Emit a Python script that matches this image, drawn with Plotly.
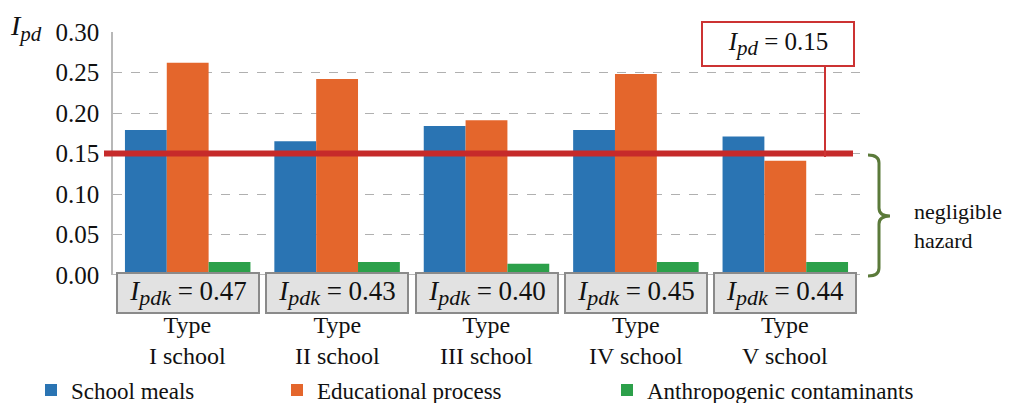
import plotly.graph_objects as go

categories = ["Type<br>I school", "Type<br>II school", "Type<br>III school", "Type<br>IV school", "Type<br>V school"]
school_meals = [0.179, 0.165, 0.184, 0.179, 0.171]
educational_process = [0.262, 0.242, 0.191, 0.248, 0.141]
anthropogenic = [0.016, 0.016, 0.014, 0.016, 0.016]
ipdk_values = ["0.47", "0.43", "0.40", "0.45", "0.44"]
threshold = 0.15
y_ticks = [0.0, 0.05, 0.10, 0.15, 0.20, 0.25, 0.30]

OFF = 8  # page body margin
W, H = 1011 - OFF, 403 - OFF
# plot area in reference (screen) pixels
SL, SR, ST, SB = 113, 860, 32, 275
L, T = SL - OFF, ST - OFF
R, B = W - (SR - OFF), H - (SB - OFF)
PW, PH = SR - SL, SB - ST

def px(x):
    return (x - SL) / PW

def py(y):
    return (SB - y) / PH

FONT = "Liberation Serif, serif"
idx = list(range(len(categories)))

def sym(main, sub, subsize):
    return (f"<i>{main}</i><sub><span style=\"font-size:{subsize}px\"><i>{sub}</i></span></sub>")

fig = go.Figure()
fig.add_bar(x=idx, y=school_meals, name="School meals", marker_color="#2a74b3",
            marker_line_width=0, legend="legend")
fig.add_bar(x=idx, y=educational_process, name="Educational process", marker_color="#e4662c",
            marker_line_width=0, legend="legend2")
fig.add_bar(x=idx, y=anthropogenic, name="Anthropogenic contaminants", marker_color="#2ca04a",
            marker_line_width=0, legend="legend3")

shapes = []
annotations = []

# threshold line
shapes.append(dict(type="line", xref="paper", yref="y", x0=px(104), x1=px(853),
                   y0=threshold, y1=threshold, line=dict(color="#c62a2a", width=6), layer="above"))
# connector to label
shapes.append(dict(type="line", xref="paper", yref="paper", x0=px(825), x1=px(825),
                   y0=py(157), y1=py(66), line=dict(color="#cc3333", width=2)))

annotations.append(dict(xref="paper", yref="paper", x=px(778), y=py(44),
                        text=sym("I", "pd", 21) + " = 0.15", showarrow=False,
                        font=dict(family=FONT, size=25, color="#111"),
                        bgcolor="white", bordercolor="#cc3333", borderwidth=2,
                        width=148, height=40, xanchor="center", yanchor="middle"))

# Ipdk boxes and category labels
for i, v in enumerate(ipdk_values):
    annotations.append(dict(xref="x", yref="paper", x=i, y=py(293),
                            text=sym("I", "pdk", 22) + " = " + v, showarrow=False,
                            font=dict(family=FONT, size=27, color="#111"),
                            bgcolor="#e2e2e2", bordercolor="#8a8a8a", borderwidth=2,
                            width=138, height=36, xanchor="center", yanchor="middle"))
    annotations.append(dict(xref="x", yref="paper", x=i, y=py(341),
                            text=categories[i], showarrow=False,
                            font=dict(family=FONT, size=24, color="#111"),
                            xanchor="center", yanchor="middle"))

# axis title
annotations.append(dict(xref="paper", yref="paper", x=px(26), y=py(28),
                        text=sym("I", "pd", 21), showarrow=False,
                        font=dict(family=FONT, size=28, color="#111"),
                        xanchor="center", yanchor="middle"))

# brace
bx0, bsp, btip = px(868), px(879), px(890)
yt, ym, yb = py(155), py(216), py(276)
d = py(8) - py(0)
path = (f"M {bx0},{yt} Q {bsp},{yt} {bsp},{yt - abs(d)} "
        f"L {bsp},{ym + abs(d)} Q {bsp},{ym} {btip},{ym} "
        f"Q {bsp},{ym} {bsp},{ym - abs(d)} "
        f"L {bsp},{yb + abs(d)} Q {bsp},{yb} {bx0},{yb}")
shapes.append(dict(type="path", xref="paper", yref="paper", path=path,
                   line=dict(color="#5b7a3a", width=3)))
annotations.append(dict(xref="paper", yref="paper", x=px(912), y=py(226),
                        text="negligible<br>hazard", showarrow=False, align="left",
                        font=dict(family=FONT, size=22, color="#111"),
                        xanchor="left", yanchor="middle"))

# baseline
shapes.append(dict(type="line", xref="paper", yref="y", x0=0, x1=1, y0=0, y1=0,
                   line=dict(color="#a0a0a0", width=1.5)))

leg_common = dict(orientation="h", yanchor="middle", xanchor="left", y=py(390),
                  font=dict(family=FONT, size=23, color="#111"), bgcolor="rgba(0,0,0,0)",
                  itemwidth=30, tracegroupgap=0)

fig.update_layout(
    width=W, height=H,
    margin=dict(l=L, r=R, t=T, b=B, autoexpand=False),
    plot_bgcolor="white", paper_bgcolor="white",
    barmode="group", bargap=0.16, bargroupgap=0,
    showlegend=True,
    legend=dict(x=px(31), **leg_common),
    legend2=dict(x=px(277), **leg_common),
    legend3=dict(x=px(607), **leg_common),
    xaxis=dict(range=[-0.5, len(categories) - 0.5], showticklabels=False, showgrid=False,
               zeroline=False, showline=False, ticks=""),
    yaxis=dict(range=[0, 0.30], tickvals=y_ticks, tickformat=".2f",
               tickfont=dict(family=FONT, size=25, color="#111"),
               showgrid=True, gridcolor="#b0b0b0", griddash="dash", gridwidth=1,
               zeroline=False, showline=True, linecolor="#b8b8b8", linewidth=1.5,
               ticks="", ticklabelstandoff=7),
    shapes=shapes, annotations=annotations,
)

fig.write_html("out.html")
